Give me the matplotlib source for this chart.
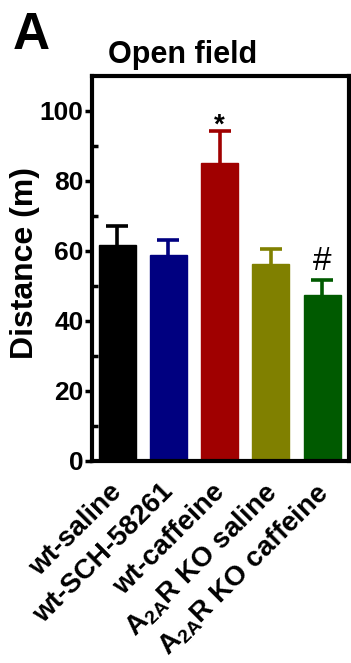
import matplotlib
matplotlib.use("Agg")
import matplotlib.pyplot as plt
from matplotlib.transforms import ScaledTranslation, blended_transform_factory

plt.rcParams['font.family'] = ['Liberation Sans', 'DejaVu Sans']
plt.rcParams['font.weight'] = 'bold'
plt.rcParams['mathtext.fontset'] = 'custom'
plt.rcParams['mathtext.rm'] = 'Liberation Sans:bold'
plt.rcParams['mathtext.it'] = 'Liberation Sans:bold'
plt.rcParams['mathtext.bf'] = 'Liberation Sans:bold'

groups = ['wt-saline', 'wt-SCH-58261', 'wt-caffeine',
          r'$\mathrm{A_{2A}}$R KO saline', r'$\mathrm{A_{2A}}$R KO caffeine']
means = [61.8, 58.8, 85.0, 56.2, 47.4]
sem = [5.2, 4.2, 9.2, 4.4, 4.2]
bar_colors = ['#000000', '#000080', '#A00000', '#808000', '#005A00']
marks = {2: '*', 4: '#'}

fig = plt.figure(figsize=(3.51, 6.63), dpi=100)
ax = fig.add_axes([0.262, 0.3047, 0.732, 0.5807])

x = list(range(len(groups)))
ax.bar(x, means, width=0.72, color=bar_colors, edgecolor=bar_colors,
       linewidth=1, zorder=2)
for i in x:
    eb = ax.errorbar(i, means[i], yerr=[[0], [sem[i]]], fmt='none',
                     ecolor=bar_colors[i], elinewidth=2.6, capsize=8,
                     capthick=2.6, zorder=1)
    # only the upper half of the error bar is shown
    eb[1][0].set_visible(False)

ax.text(2, means[2] + sem[2] + 1.6, marks[2], ha='center', va='center',
        fontsize=20, fontweight='bold', color='black')
ax.text(4, means[4] + sem[4] + 5.3, marks[4], ha='center', va='center',
        fontsize=24, fontweight='normal', color='black')

ax.set_xlim(-0.49, 4.52)
ax.set_ylim(0, 110)
ax.set_yticks([0, 20, 40, 60, 80, 100])
ax.set_yticks([10, 30, 50, 70, 90], minor=True)
ax.set_xticks(x)
ax.set_xticklabels([])

# rotated group labels, anchored at the top-right end under each bar
lab_tr = blended_transform_factory(ax.transData, ax.transAxes) + \
    ScaledTranslation(-8 / 100, -18 / 100, fig.dpi_scale_trans)
for i, name in zip(x, groups):
    ax.text(i, 0, name, transform=lab_tr, rotation=45, ha='right',
            va='top', rotation_mode='anchor', fontsize=20,
            fontweight='bold', clip_on=False)

for lbl in ax.get_yticklabels():
    lbl.set_fontsize(19)
    lbl.set_fontweight('bold')

ax.tick_params(axis='y', which='major', direction='out', length=5,
               width=2.5, pad=1)
ax.tick_params(axis='y', which='minor', direction='in', length=4, width=2.5)
ax.tick_params(axis='x', length=0)
for sp in ax.spines.values():
    sp.set_linewidth(3)

fig.text(0.037, 0.983, 'A', fontsize=37, fontweight='bold',
         ha='left', va='top')
fig.text(0.521, 0.917, 'Open field', fontsize=22, fontweight='bold',
         ha='center', va='center')
fig.text(0.071, 0.603, 'Distance (m)', fontsize=23, fontweight='bold',
         rotation=90, ha='center', va='center')

fig.savefig('out.png', dpi=100)
